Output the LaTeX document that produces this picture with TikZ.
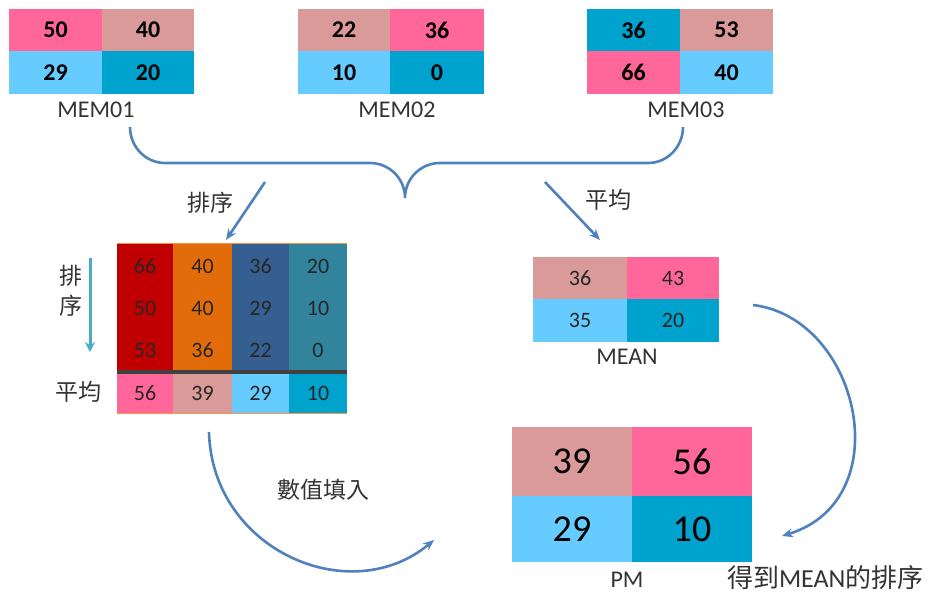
\documentclass[tikz,border=0pt]{standalone}
\usepackage{fontspec}
\setmainfont{Carlito}
\newfontfamily\cjk{Noto Sans CJK TC}
\usetikzlibrary{arrows.meta}
\definecolor{pinkc}{HTML}{FF6699}
\definecolor{rosec}{HTML}{DA9A99}
\definecolor{skyc}{HTML}{66CCFF}
\definecolor{cyanc}{HTML}{00A2CE}
\definecolor{redc}{HTML}{C00000}
\definecolor{orangec}{HTML}{E36C0A}
\definecolor{navyc}{HTML}{365F91}
\definecolor{tealc}{HTML}{31849B}
\definecolor{flowc}{HTML}{4F81BD}
\definecolor{sortc}{HTML}{4BACC6}
\definecolor{edgec}{HTML}{F79646}
\definecolor{labelc}{HTML}{333333}
\tikzset{
  cell/.style={anchor=north west, inner sep=0pt, outer sep=0pt, draw=none},
  memnum/.style={font=\fontsize{24}{26}\selectfont\bfseries},
  tnum/.style={font=\fontsize{22}{24}\selectfont, text=black!85},
  bignum/.style={font=\fontsize{38}{40}\selectfont},
  lbl/.style={font=\fontsize{24}{26}\selectfont, text=labelc},
  zh/.style={font=\fontsize{23}{26}\selectfont\cjk, text=labelc},
  flow/.style={draw=flowc, line width=2.6pt, -{Stealth[length=11pt,width=9pt]}},
  brace/.style={draw=flowc, line width=2.6pt}
}
\begin{document}
\begin{tikzpicture}[x=1pt,y=-1pt]
\useasboundingbox (0,0) rectangle (930,596);

% ---- three memory blocks ----
\node[cell,fill=pinkc,minimum width=93,minimum height=42] (a11) at (9,9) {};
\node[cell,fill=rosec,minimum width=92,minimum height=42] (a12) at (102,9) {};
\node[cell,fill=skyc,minimum width=93,minimum height=43] (a21) at (9,51) {};
\node[cell,fill=cyanc,minimum width=92,minimum height=43] (a22) at (102,51) {};
\node[memnum] at (a11) {50};
\node[memnum] at (a12) {40};
\node[memnum] at (a21) {29};
\node[memnum] at (a22) {20};
\node[lbl] (mem1) at (96,110) {MEM01};

\node[cell,fill=rosec,minimum width=92,minimum height=42] (b11) at (298,9) {};
\node[cell,fill=pinkc,minimum width=94,minimum height=42] (b12) at (390,9) {};
\node[cell,fill=skyc,minimum width=92,minimum height=43] (b21) at (298,51) {};
\node[cell,fill=cyanc,minimum width=94,minimum height=43] (b22) at (390,51) {};
\node[memnum] at (b11) {22};
\node[memnum] at (b12) {36};
\node[memnum] at (b21) {10};
\node[memnum] at (b22) {0};
\node[lbl] (mem2) at (397,110) {MEM02};

\node[cell,fill=cyanc,minimum width=93,minimum height=42] (c11) at (587,9) {};
\node[cell,fill=rosec,minimum width=93,minimum height=42] (c12) at (680,9) {};
\node[cell,fill=pinkc,minimum width=93,minimum height=43] (c21) at (587,51) {};
\node[cell,fill=skyc,minimum width=93,minimum height=43] (c22) at (680,51) {};
\node[memnum] at (c11) {36};
\node[memnum] at (c12) {53};
\node[memnum] at (c21) {66};
\node[memnum] at (c22) {40};
\node[lbl] (mem3) at (686,110) {MEM03};

% ---- brace gathering the blocks ----
\coordinate (bl) at (130,127);
\coordinate (br) at (683,127);
\coordinate (btip) at (405,198);
\draw[brace] (bl) to[out=-90,in=180] (165,163) -- (370,163) to[out=0,in=90] (btip)
             to[out=90,in=180] (440,163) -- (648,163) to[out=0,in=-90] (br);

% ---- sorted table ----
\node[cell,fill=redc,minimum width=56,minimum height=128] (col1) at (117,244) {};
\node[cell,fill=orangec,minimum width=59,minimum height=128] (col2) at (173,244) {};
\node[cell,fill=navyc,minimum width=57,minimum height=128] (col3) at (232,244) {};
\node[cell,fill=tealc,minimum width=58,minimum height=128] (col4) at (289,244) {};
\node[cell,fill=pinkc,minimum width=56,minimum height=40] (avg1) at (117,373) {};
\node[cell,fill=rosec,minimum width=59,minimum height=40] (avg2) at (173,373) {};
\node[cell,fill=skyc,minimum width=57,minimum height=40] (avg3) at (232,373) {};
\node[cell,fill=cyanc,minimum width=58,minimum height=40] (avg4) at (289,373) {};
\draw[black!75,line width=3.5pt] (col1.south west) -- (col4.south east);
\draw[edgec,line width=1pt] (col1.north west) -- (col4.north east);
\draw[edgec,line width=1pt] (avg1.south west) -- (avg4.south east);

\node[tnum] at (145,266) {66};  \node[tnum] at (202.5,266) {40};
\node[tnum] at (260.5,266) {36}; \node[tnum] at (318,266) {20};
\node[tnum] at (145,308) {50};  \node[tnum] at (202.5,308) {40};
\node[tnum] at (260.5,308) {29}; \node[tnum] at (318,308) {10};
\node[tnum] at (145,350) {53};  \node[tnum] at (202.5,350) {36};
\node[tnum] at (260.5,350) {22}; \node[tnum] at (318,350) {0};
\node[tnum] at (avg1) {56};
\node[tnum] at (avg2) {39};
\node[tnum] at (avg3) {29};
\node[tnum] at (avg4) {10};

% side labels of the sorted table
\coordinate (sorttop) at (90,258);
\coordinate (sortbot) at (90,352);
\draw[draw=sortc,line width=3pt,-{Stealth[length=10pt,width=10pt]}] (sorttop) -- (sortbot);
\node[zh] (sortv1) at (71,276) {排};
\node[zh] (sortv2) at (71,306) {序};
\node[zh] (avglbl) at (79,392) {平均};

% ---- mean block ----
\node[cell,fill=rosec,minimum width=94,minimum height=42] (m11) at (533,257) {};
\node[cell,fill=pinkc,minimum width=92,minimum height=42] (m12) at (627,257) {};
\node[cell,fill=skyc,minimum width=94,minimum height=43] (m21) at (533,299) {};
\node[cell,fill=cyanc,minimum width=92,minimum height=43] (m22) at (627,299) {};
\node[tnum] at (m11) {36};
\node[tnum] at (m12) {43};
\node[tnum] at (m21) {35};
\node[tnum] at (m22) {20};
\node[lbl] (meanlbl) at (627,357) {MEAN};

% ---- result block ----
\node[cell,fill=rosec,minimum width=120,minimum height=69] (p11) at (512,427) {};
\node[cell,fill=pinkc,minimum width=120,minimum height=69] (p12) at (632,427) {};
\node[cell,fill=skyc,minimum width=120,minimum height=66] (p21) at (512,496) {};
\node[cell,fill=cyanc,minimum width=120,minimum height=66] (p22) at (632,496) {};
\node[bignum] at (p11) {39};
\node[bignum] at (p12) {56};
\node[bignum] at (p21) {29};
\node[bignum] at (p22) {10};
\node[lbl] (pmlbl) at (627,580) {PM};
\node[lbl,font=\fontsize{26}{28}\selectfont,anchor=east] (rank) at (927,578) {{\cjk 得到}MEAN{\cjk 的排序}};

% ---- flow arrows ----
\coordinate (s1) at (265,182);
\coordinate (s2) at (226,240);
\draw[flow] (s1) -- (s2);
\node[zh] (sortlbl) at (210,203) {排序};

\coordinate (a1) at (545,182);
\coordinate (a2) at (600,240);
\draw[flow] (a1) -- (a2);
\node[zh] (avgtop) at (608,200) {平均};

\coordinate (f1) at (753,305);
\coordinate (f2) at (782,536);
\draw[flow] (f1) .. controls (860,318) and (900,500) .. (f2);

\coordinate (g1) at (209,432);
\coordinate (g2) at (434,540);
\draw[flow] (g1) .. controls (212,550) and (350,610) .. (g2);
\node[zh] (filllbl) at (323,490) {數值填入};

\end{tikzpicture}
\end{document}
